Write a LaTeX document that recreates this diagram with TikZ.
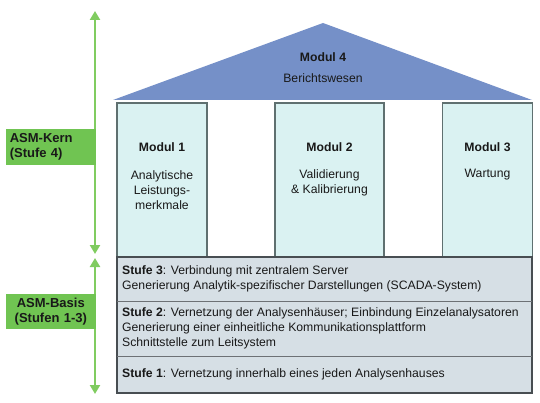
\documentclass[tikz,border=0pt]{standalone}
\usepackage{fontspec}
\setmainfont{Liberation Sans}
\usetikzlibrary{arrows.meta}
\definecolor{roofblue}{RGB}{117,144,200}
\definecolor{modfill}{RGB}{218,242,242}
\definecolor{modline}{RGB}{95,112,112}
\definecolor{basefill}{RGB}{214,223,229}
\definecolor{baseline}{RGB}{72,78,82}
\definecolor{asmgreen}{RGB}{112,196,82}
\definecolor{arrgreen}{RGB}{128,204,96}
\definecolor{txt}{RGB}{25,25,25}
\tikzset{
  modbox/.style={rectangle,draw=modline,fill=modfill,line width=1.2pt,minimum width=90pt,minimum height=154pt},
  asmlabel/.style={rectangle,fill=asmgreen,text=txt,font=\fontsize{13}{15.5}\selectfont\bfseries,text width=82pt,minimum height=35pt,inner sep=4pt,anchor=east},
  greenarrow/.style={arrgreen,line width=2.6pt,{Triangle[length=9pt,width=10pt]}-{Triangle[length=9pt,width=10pt]}},
  rowtext/.style={anchor=north west,align=left,inner sep=0pt}
}
\begin{document}
\begin{tikzpicture}[x=1pt,y=-1pt,font=\fontsize{12.2}{15}\selectfont,text=txt]
\useasboundingbox (0,0) rectangle (540,403);
% roof
\fill[roofblue] (113,100) -- (323,23) -- (532,100) -- cycle;
\node (m4) at (323,57) {\textbf{Modul 4}};
\node (m4t) at (323,78) {Berichtswesen};
% columns
\node[modbox] (m1) at (162,180) {};
\node[modbox,minimum width=109pt] (m2) at (329.5,180) {};
\node[modbox] (m3) at (487.5,180) {};
\node (m1h) at (162,147) {\textbf{Modul 1}};
\node[align=center] (m1t) at (162,190) {Analytische\\Leistungs-\\merkmale};
\node (m2h) at (329.5,147) {\textbf{Modul 2}};
\node[align=center] (m2t) at (329.5,183) {Validierung\\\& Kalibrierung};
\node (m3h) at (487.5,147) {\textbf{Modul 3}};
\node (m3t) at (487.5,175) {Wartung};
% base
\draw[draw=baseline,fill=basefill,line width=1.8pt] (117,257) rectangle (532,393);
\draw[baseline!80,line width=1pt] (117,301) -- (532,301);
\draw[baseline!80,line width=1pt] (117,356) -- (532,356);
\node[rowtext] (s3) at (122,265) {\textbf{Stufe 3}: Verbindung mit zentralem Server\\Generierung Analytik-spezifischer Darstellungen (SCADA-System)};
\node[rowtext] (s2) at (122,307) {\textbf{Stufe 2}: Vernetzung der Analysenhäuser; Einbindung Einzelanalysatoren\\Generierung einer einheitliche Kommunikationsplattform\\Schnittstelle zum Leitsystem};
\node[rowtext] (s1) at (122,368) {\textbf{Stufe 1}: Vernetzung innerhalb eines jeden Analysenhauses};
% levels
\coordinate (kt) at (95,11);
\coordinate (kb) at (95,254);
\coordinate (bt) at (95,258);
\coordinate (bb) at (95,394);
\draw[greenarrow] (kt) -- (kb);
\draw[greenarrow] (bt) -- (bb);
\node[asmlabel,align=left] (kern) at (96,147) {ASM-Kern\\(Stufe 4)};
\node[asmlabel,align=center] (basis) at (96,311.5) {ASM-Basis\\(Stufen 1-3)};
\end{tikzpicture}
\end{document}
